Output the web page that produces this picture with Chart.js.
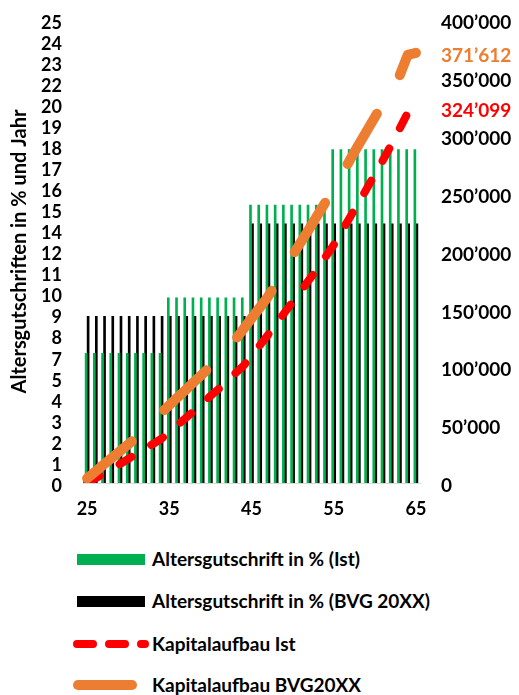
<!DOCTYPE html>
<html><head><meta charset="utf-8">
<script src="https://cdn.jsdelivr.net/npm/chart.js@4/dist/chart.umd.min.js"></script>
<style>
html,body{margin:0;padding:0;background:#fff;}
#wrap{position:relative;width:519px;height:695px;font-family:Lato,sans-serif;overflow:hidden;}
#c{position:absolute;left:0;top:0;}
.row{position:absolute;left:0;width:519px;height:30px;}
.row svg{position:absolute;left:0;top:0;}
.row span{position:absolute;left:152px;top:0;line-height:30px;font-weight:bold;font-size:19px;color:#000;white-space:nowrap;}
</style></head><body>
<div id="wrap"><canvas id="c" width="519" height="530"></canvas><div id="legend"></div></div>
<script>
// ---- data ----
const ages = [25,26,27,28,29,30,31,32,33,34,35,36,37,38,39,40,41,42,43,44,45,46,47,48,49,50,51,52,53,54,55,56,57,58,59,60,61,62,63,64,65];
const xTickLabels = ['25','35','45','55','65'];
const leftTickLabels = ['0','1','2','3','4','5','7','8','9','10','11','12','14','15','16','17','18','19','20','22','23','24','25'];
const yTitle = 'Altersgutschriften in % und Jahr';
const seriesNames = ['Altersgutschrift in % (Ist)','Altersgutschrift in % (BVG 20XX)','Kapitalaufbau Ist','Kapitalaufbau BVG20XX'];
const creditIst = [7,7,7,7,7,7,7,7,7,7,10,10,10,10,10,10,10,10,10,10,15,15,15,15,15,15,15,15,15,15,18,18,18,18,18,18,18,18,18,18,18];
const creditBVG = [9,9,9,9,9,9,9,9,9,9,9,9,9,9,9,9,9,9,9,9,14,14,14,14,14,14,14,14,14,14,14,14,14,14,14,14,14,14,14,14,14];
const capitalIst = [1000,4000,7800,12100,16400,20700,25100,29400,33700,38000,44100,50100,56200,62200,68300,75200,81200,88100,94600,101100,109700,118800,127900,137400,146900,156400,165900,175400,184900,195200,205600,217700,229800,241900,254000,266500,279000,292000,305800,319700,324099];
const capitalBVG = [4100,9900,15800,21700,27600,33400,39300,45800,52700,60500,67200,73900,80500,87300,93900,100700,108400,116200,123500,132900,142200,151500,161000,172400,184500,196500,208000,219400,231000,242600,254700,267000,279400,291700,303900,316000,327900,339500,351600,369800,371612];

const BOLD = 'Lato';
function fmt(v){ if(v===0) return '0'; const s=String(Math.round(v)); return s.replace(/\B(?=(\d{3})+(?!\d))/g,'\u2019'); }

const endLabels = {
  id:'endLabels',
  afterDatasetsDraw(chart){
    const {ctx, chartArea} = chart;
    chart.data.datasets.forEach((ds,i)=>{
      if(ds.type!=='line') return;
      const meta = chart.getDatasetMeta(i);
      const last = meta.data[meta.data.length-1];
      ctx.save();
      ctx.font = 'bold 19px '+BOLD;
      ctx.fillStyle = ds.borderColor;
      ctx.textAlign = 'left'; ctx.textBaseline = 'middle';
      ctx.fillText(fmt(ds.data[ds.data.length-1]), chartArea.right+21, last.y+3);
      ctx.restore();
    });
  }
};

const tickFont = {family:BOLD, weight:'bold', size:18};
const rightFont = {family:BOLD, weight:'bold', size:19};
const chart = new Chart(document.getElementById('c'), {
  type:'bar',
  data:{
    labels: ages,
    datasets:[
      {type:'line', label:seriesNames[3], data:capitalBVG, yAxisID:'y2', borderColor:'#ED7D31', borderWidth:10, borderDash:[58,45], borderCapStyle:'round', borderJoinStyle:'round', pointRadius:0, tension:0, fill:false, order:0},
      {type:'line', label:seriesNames[2], data:capitalIst, yAxisID:'y2', borderColor:'#FF0000', borderWidth:8, borderDash:[14,23], borderCapStyle:'round', borderJoinStyle:'round', pointRadius:0, tension:0, fill:false, order:1},
      {type:'bar', label:seriesNames[0], data:creditIst, yAxisID:'y', backgroundColor:'#00B050', barThickness:2, order:2},
      {type:'bar', label:seriesNames[1], data:creditBVG, yAxisID:'y', backgroundColor:'#000000', barThickness:2, order:3}
    ]
  },
  options:{
    responsive:false, animation:false, devicePixelRatio:1,
    layout:{padding:{top:20,left:0,right:0,bottom:0}},
    plugins:{legend:{display:false}, tooltip:{enabled:false}},
    scales:{
      x:{type:'category', offset:true, grid:{display:false, drawTicks:false}, border:{color:'#d9d9d9', width:1},
         ticks:{autoSkip:false, maxRotation:0, padding:15, color:'#000', font:tickFont,
           callback:(v,i)=> xTickLabels.includes(String(ages[i])) ? String(ages[i]) : ''},
         afterFit:s=>{s.height=47;}},
      y:{position:'left', min:0, max:25, grid:{display:false, drawTicks:true, tickLength:21}, border:{display:false},
         afterBuildTicks:s=>{ s.ticks = leftTickLabels.map((l,i)=>({value:i*25/(leftTickLabels.length-1)})); },
         ticks:{autoSkip:false, padding:0, labelOffset:3, color:'#000', font:tickFont, callback:(v,i)=>leftTickLabels[i]},
         title:{display:true, text:yTitle, color:'#000', font:{family:BOLD, weight:'bold', size:20}, padding:{top:8,bottom:0}},
         afterFit:s=>{s.width=83;}},
      y2:{position:'right', min:0, max:400000, grid:{display:false, drawTicks:true, tickLength:21}, border:{display:false},
         ticks:{stepSize:50000, padding:0, labelOffset:3, color:'#000', font:rightFont, callback:v=>fmt(v)},
         afterFit:s=>{s.width=99;}}
    }
  },
  plugins:[endLabels]
});

// ---- HTML legend built from the chart's datasets ----
const legendRows = [
  {ds:2, top:544, kind:'rect'},
  {ds:3, top:586, kind:'rect'},
  {ds:1, top:629, kind:'dash'},
  {ds:0, top:670, kind:'line'}
];
const legendEl = document.getElementById('legend');
legendRows.forEach(r=>{
  const ds = chart.data.datasets[r.ds];
  const row = document.createElement('div'); row.className='row'; row.style.top=r.top+'px';
  let svg = '';
  if(r.kind==='rect') svg = `<svg width="160" height="30"><rect x="77" y="10" width="68" height="11" fill="${ds.backgroundColor}"/></svg>`;
  else if(r.kind==='dash') svg = `<svg width="160" height="30"><line x1="77" y1="15" x2="145" y2="15" stroke="${ds.borderColor}" stroke-width="8" stroke-linecap="round" stroke-dasharray="16 16"/></svg>`;
  else svg = `<svg width="160" height="30"><line x1="78" y1="15" x2="132" y2="15" stroke="${ds.borderColor}" stroke-width="10" stroke-linecap="round"/></svg>`;
  row.innerHTML = svg + `<span>${ds.label}</span>`;
  legendEl.appendChild(row);
});
</script>
</body></html>
